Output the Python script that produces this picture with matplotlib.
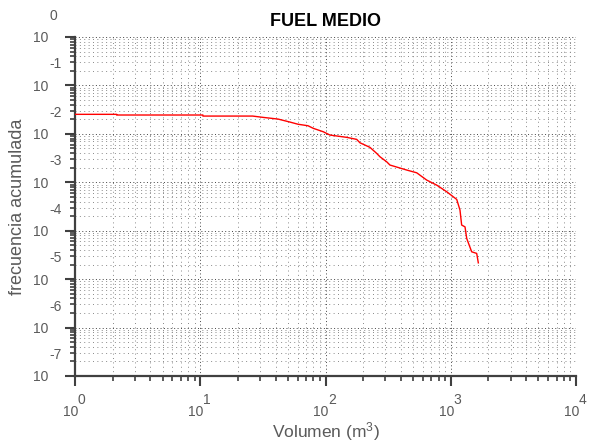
import matplotlib
matplotlib.use('Agg')
import matplotlib.pyplot as plt
import numpy as np
from matplotlib.ticker import LogLocator, FixedLocator, NullFormatter, FuncFormatter
from matplotlib.transforms import ScaledTranslation

# ---- data ----
volumen = [1.0, 2.15, 2.15, 10.5, 10.5, 26.2, 31.7, 41.8, 52.1, 60.3, 72.5, 79.9,
           96.0, 108.6, 147.6, 177.4, 188.5, 226.5, 256.3, 272.4, 308, 327, 445,
           535, 643, 772, 929, 1116, 1185, 1222, 1300, 1341, 1469, 1611, 1660]
frecuencia = [0.0253, 0.0253, 0.0245, 0.0245, 0.0233, 0.0233, 0.0219, 0.0202,
              0.0175, 0.0158, 0.0147, 0.0130, 0.01105, 0.00944, 0.00847, 0.00769,
              0.00654, 0.00526, 0.00395, 0.00336, 0.00265, 0.00227, 0.00179,
              0.00157, 0.00111, 0.000875, 0.000637, 0.000443, 0.000267, 0.000131,
              0.000120, 0.0000693, 0.0000367, 0.0000340, 0.0000217]
x_decades = [0, 1, 2, 3, 4]
y_decades = [0, -1, -2, -3, -4, -5, -6, -7]
title = "FUEL MEDIO"
xlabel = "Volumen (m$^3$)"
ylabel = "frecuencia acumulada"

plt.rcParams['font.family'] = ['Liberation Sans', 'DejaVu Sans']
plt.rcParams['mathtext.fontset'] = 'custom'
plt.rcParams['mathtext.rm'] = 'Liberation Sans'
plt.rcParams['mathtext.it'] = 'Liberation Sans:italic'

txt_col = '#5a5a5a'
ax_col = '#404040'
PX = 72 / 100.0  # points per pixel
TS = 10

fig = plt.figure(figsize=(5.9, 4.47), dpi=100)
ax = fig.add_axes([75 / 590, 1 - 376 / 447, (576 - 75) / 590, (376 - 37) / 447])
ax.set_xscale('log')
ax.set_yscale('log')
ax.set_xlim(1, 1e4)
ax.set_ylim(1e-7, 1)

ax.plot(volumen, frecuencia, color='#ff0000', lw=1.0, zorder=3)

ax.xaxis.set_major_locator(FixedLocator([10.0 ** e for e in x_decades]))
ax.yaxis.set_major_locator(FixedLocator([10.0 ** e for e in y_decades]))
ax.xaxis.set_minor_locator(LogLocator(base=10, subs=np.arange(2, 10), numticks=30))
ax.yaxis.set_minor_locator(LogLocator(base=10, subs=np.arange(2, 10), numticks=30))
ax.xaxis.set_minor_formatter(NullFormatter())
ax.yaxis.set_minor_formatter(NullFormatter())
ax.xaxis.set_major_formatter(FuncFormatter(lambda v, p: '10'))
ax.yaxis.set_major_formatter(FuncFormatter(lambda v, p: '10'))

ax.grid(which='major', ls=(0, (1, 2.5)), color='#444444', lw=0.7)
ax.grid(which='minor', ls=(0, (1, 3.5)), color='#8a8a8a', lw=0.7)

for s in ['top', 'right']:
    ax.spines[s].set_visible(False)
for s in ['left', 'bottom']:
    ax.spines[s].set_color(ax_col)
    ax.spines[s].set_linewidth(1.6)

ax.tick_params(which='major', direction='out', length=7, width=1.5, color=ax_col,
               labelcolor=txt_col, labelsize=TS)
ax.tick_params(which='minor', direction='out', length=3.8, width=1.2, color=ax_col)
ax.tick_params(axis='x', which='major', pad=14)
ax.tick_params(axis='y', which='major', pad=12)

off = ScaledTranslation(-4.5 / 100, 0, fig.dpi_scale_trans)
for lab in ax.get_xticklabels():
    lab.set_transform(lab.get_transform() + off)

for e in x_decades:
    ax.annotate(str(e), xy=(10.0 ** e, 0), xycoords=('data', 'axes fraction'),
                xytext=(2.5 * PX, -24 * PX), textcoords='offset points',
                ha='left', va='center', fontsize=TS, color=txt_col,
                annotation_clip=False)
for e in y_decades:
    ax.annotate(str(e), xy=(0, 10.0 ** e), xycoords=('axes fraction', 'data'),
                xytext=(-26 * PX, 21 * PX), textcoords='offset points',
                ha='left', va='center', fontsize=TS, color=txt_col,
                annotation_clip=False)

ax.set_title(title, fontsize=13, fontweight='bold', color='black', pad=8)
ax.set_xlabel(xlabel, fontsize=12.5, color=txt_col, va='center')
ax.xaxis.set_label_coords(0.5, (376 - 432) / 339)
ax.set_ylabel(ylabel, fontsize=13, color=txt_col, va='center')
ax.yaxis.set_label_coords((18 - 75) / 501, 0.5)

fig.savefig('out.png', dpi=100)
